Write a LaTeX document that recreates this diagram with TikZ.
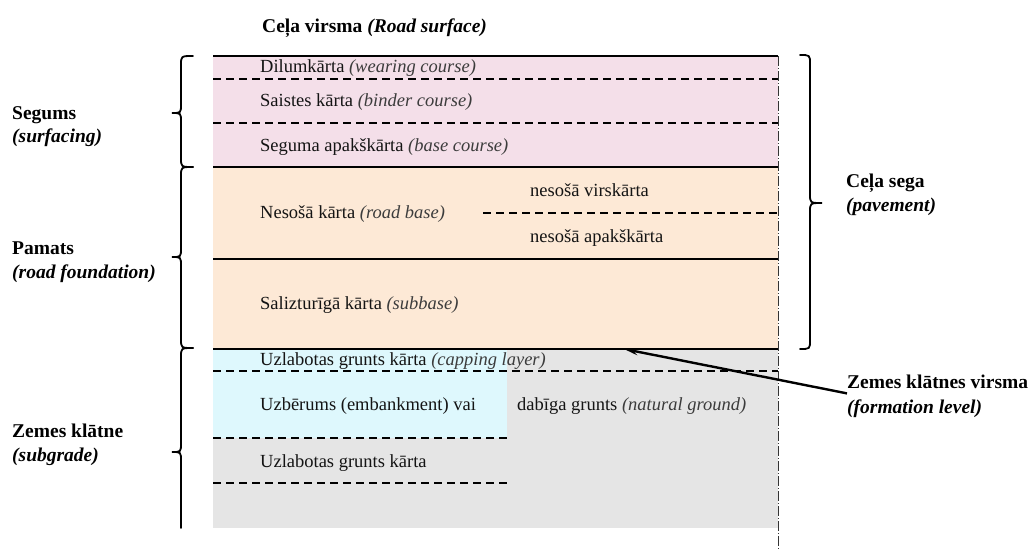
\documentclass[tikz,border=0pt]{standalone}
\usepackage{fontspec}
\setmainfont{Liberation Serif}
\usetikzlibrary{arrows.meta}
\definecolor{pinkc}{RGB}{244,223,233}
\definecolor{peachc}{RGB}{253,233,214}
\definecolor{cyanc}{RGB}{222,248,253}
\definecolor{greyc}{RGB}{229,229,229}
\definecolor{itgrey}{RGB}{60,60,60}
\definecolor{txt}{RGB}{20,20,20}
\newcommand\gi[1]{\textcolor{itgrey}{\textit{#1}}}
\newcommand\bracepathL[4]{%
  \draw[bracestyle] ({#1+12},#2) .. controls (#1,#2) .. (#1,{#2+9}) -- (#1,{#3-9})
    .. controls (#1,#3) .. ({#1-9},#3) .. controls (#1,#3) .. (#1,{#3+9})
    -- (#1,{#4-9}) .. controls (#1,#4) .. ({#1+12},#4);}
\newcommand\bracepathLopen[4]{%
  \draw[bracestyle] ({#1+12},#2) .. controls (#1,#2) .. (#1,{#2+9}) -- (#1,{#3-9})
    .. controls (#1,#3) .. ({#1-9},#3) .. controls (#1,#3) .. (#1,{#3+9})
    -- (#1,#4);}
\newcommand\bracepathR[4]{%
  \draw[bracestyle] ({#1-10},#2) .. controls (#1,#2) .. (#1,{#2+9}) -- (#1,{#3-9})
    .. controls (#1,#3) .. ({#1+12},#3) .. controls (#1,#3) .. (#1,{#3+9})
    -- (#1,{#4-9}) .. controls (#1,#4) .. ({#1-10},#4);}
\begin{document}
\begin{tikzpicture}[x=1pt,y=-1pt,
  lay/.style={anchor=base west,inner sep=0pt,text=txt,font=\fontsize{18.5}{24}\selectfont},
  lab/.style={anchor=base west,inner sep=0pt,text=black,font=\fontsize{19.5}{24}\selectfont\bfseries},
  solidl/.style={line width=1.4pt,black},
  dashl/.style={line width=1.8pt,black,dash pattern=on 8pt off 5pt},
  axisl/.style={line width=0.9pt,black!80,dash pattern=on 10pt off 2pt on 1pt off 2pt},
  bracestyle/.style={line width=1.8pt,black,line cap=round},
  pointer/.style={line width=2.4pt,black,-{Stealth[length=14pt,width=7pt]}}]
\useasboundingbox (0,0) rectangle (1030,549);
% fills
\fill[pinkc] (213,56) rectangle (778,167);
\fill[peachc] (213,167) rectangle (778,349);
\fill[greyc] (213,349) rectangle (778,528);
\fill[cyanc] (213,349) rectangle (507,438);
% solid boundaries
\draw[solidl] (213,56) -- (778,56);
\draw[solidl] (213,167) -- (778,167);
\draw[solidl] (213,259) -- (778,259);
\draw[solidl] (213,349) -- (778,349);
% dashed boundaries
\draw[dashl] (213,79) -- (778,79);
\draw[dashl] (213,123) -- (778,123);
\draw[dashl] (483,213) -- (778,213);
\draw[dashl] (213,371) -- (778,371);
\draw[dashl] (213,438) -- (507,438);
\draw[dashl] (213,483) -- (507,483);
% axis
\draw[axisl] (778,56) -- (778,549);
% layer texts
\node[lay] (t1) at (260,72) {Dilumkārta \gi{(wearing course)}};
\node[lay] (t2) at (260,106) {Saistes kārta \gi{(binder course)}};
\node[lay] (t3) at (260,151) {Seguma apakškārta \gi{(base course)}};
\node[lay] (t4) at (260,218) {Nesošā kārta \gi{(road base)}};
\node[lay] (t5) at (530,196) {nesošā virskārta};
\node[lay] (t6) at (530,242) {nesošā apakškārta};
\node[lay] (t7) at (260,309) {Salizturīgā kārta \gi{(subbase)}};
\node[lay] (t8) at (260,365) {Uzlabotas grunts kārta \gi{(capping layer)}};
\node[lay] (t9) at (260,410) {Uzbērums (embankment) vai};
\node[lay] (t10) at (517,410) {dabīga grunts \gi{(natural ground)}};
\node[lay] (t11) at (260,467) {Uzlabotas grunts kārta};
% labels
\node[lab] (top) at (262,32) {Ceļa virsma \textit{(Road surface)}};
\node[lab] (seg1) at (12,119) {Segums};
\node[lab] (seg2) at (12,142) {\textit{(surfacing)}};
\node[lab] (pam1) at (12,254) {Pamats};
\node[lab] (pam2) at (12,278) {\textit{(road foundation)}};
\node[lab] (zk1) at (12,437) {Zemes klātne};
\node[lab] (zk2) at (12,461) {\textit{(subgrade)}};
\node[lab] (cs1) at (846,187) {Ceļa sega};
\node[lab] (cs2) at (846,211) {\textit{(pavement)}};
\node[lab] (fl1) at (847,388) {Zemes klātnes virsma};
\node[lab] (fl2) at (847,413) {\textit{(formation level)}};
% braces
\bracepathL{181}{56}{113}{167}
\bracepathL{181}{167}{257}{348}
\bracepathLopen{181}{348}{452}{528}
\bracepathR{810}{55}{203}{349}
% pointer
\coordinate (fltip) at (624,349);
\draw[pointer] ([yshift=-5pt]fl1.south west) -- (fltip);
\end{tikzpicture}
\end{document}
